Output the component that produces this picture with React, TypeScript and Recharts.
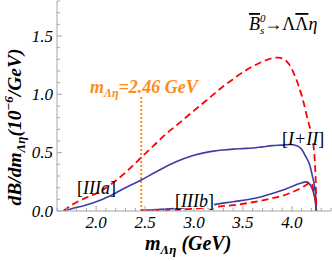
import React from 'react';
import { ComposedChart, Line, XAxis, YAxis, ReferenceLine } from 'recharts';

// ---- data ----
const xTicks = [1.6, 1.7, 1.8, 1.9, 2.0, 2.1, 2.2, 2.3, 2.4, 2.5, 2.6, 2.7, 2.8, 2.9, 3.0, 3.1, 3.2, 3.3, 3.4, 3.5, 3.6, 3.7, 3.8, 3.9, 4.0, 4.1, 4.2, 4.3, 4.4];
const yTicks = [0, 0.1, 0.2, 0.3, 0.4, 0.5, 0.6, 0.7, 0.8, 0.9, 1.0, 1.1, 1.2, 1.3, 1.4, 1.5, 1.6, 1.7, 1.8];
const xDomain: [number, number] = [1.6, 4.4];
const yDomain: [number, number] = [0, 1.8];

const thresholdX = 2.46;
const thresholdTop = 0.98;

// red dashed, large
const redLarge: [number, number][] = [
  [1.664, 0], [1.72, 0.035], [1.8, 0.075], [1.9, 0.115], [2.0, 0.15], [2.1, 0.2], [2.2, 0.26],
  [2.3, 0.33], [2.4, 0.41], [2.5, 0.49], [2.6, 0.57], [2.7, 0.65], [2.8, 0.72], [2.9, 0.79],
  [3.0, 0.86], [3.1, 0.93], [3.2, 1.0], [3.3, 1.07], [3.4, 1.13], [3.5, 1.19], [3.6, 1.24],
  [3.7, 1.28], [3.8, 1.31], [3.86, 1.315], [3.92, 1.3], [3.97, 1.26], [4.02, 1.18], [4.07, 1.07],
  [4.12, 0.93], [4.16, 0.79], [4.2, 0.66], [4.22, 0.57], [4.235, 0.42], [4.245, 0.22], [4.25, 0],
];

// blue solid, large ([IIIa] -> [I+II])
const blueLarge: [number, number][] = [
  [1.664, 0], [1.75, 0.02], [1.89, 0.05], [2.0, 0.08], [2.09, 0.11], [2.2, 0.155], [2.3, 0.2],
  [2.46, 0.265], [2.6, 0.33], [2.7, 0.375], [2.8, 0.415], [2.9, 0.45], [3.0, 0.478], [3.1, 0.498],
  [3.2, 0.513], [3.3, 0.523], [3.4, 0.53], [3.5, 0.535], [3.6, 0.54], [3.7, 0.55], [3.8, 0.56],
  [3.9, 0.565], [3.98, 0.57], [4.05, 0.56], [4.1, 0.53], [4.14, 0.47], [4.18, 0.4], [4.21, 0.3],
  [4.23, 0.22], [4.245, 0.12], [4.25, 0],
];

// blue solid, small ([IIIb])
const blueSmall: [number, number][] = [
  [2.46, 0.005], [2.6, 0.01], [2.8, 0.02], [3.0, 0.035], [3.2, 0.055], [3.4, 0.08], [3.57, 0.1],
  [3.7, 0.125], [3.8, 0.15], [3.91, 0.18], [4.0, 0.21], [4.08, 0.235], [4.15, 0.25], [4.19, 0.22],
  [4.22, 0.16], [4.24, 0.08], [4.25, 0],
];

// red dashed, small ([IIIb])
const redSmall: [number, number][] = [
  [2.46, 0.005], [2.8, 0.01], [3.0, 0.02], [3.2, 0.035], [3.4, 0.05], [3.6, 0.075], [3.8, 0.11],
  [3.9, 0.13], [4.0, 0.16], [4.1, 0.2], [4.15, 0.225], [4.19, 0.245], [4.21, 0.22], [4.23, 0.15],
  [4.245, 0.06], [4.25, 0],
];

// ---- styles ----
const FONT = '"Liberation Serif", "DejaVu Serif", serif';
const FRAME = '#a6a6a6';
const RED = '#ff0000';
const BLUE = '#3d3da6';
const ORANGE = '#ff8c1a';

const toPts = (a: [number, number][]) => a.map(([x, y]) => ({ x, y }));
const isMajor = (v: number) => Math.abs(v * 2 - Math.round(v * 2)) < 1e-6;

const BottomTick = (p: any) => {
  const { x, y, payload } = p;
  const v = payload.value as number;
  const m = isMajor(v);
  const showLabel = m && v > 1.9 && v < 4.1;
  return (
    <g>
      <line x1={x} x2={x} y1={y} y2={y - (m ? 5 : 3)} stroke={FRAME} strokeWidth={1} />
      {showLabel && (
        <text x={x} y={y + 17} textAnchor="middle" fontFamily={FONT} fontStyle="italic" fontSize={17} fill="#000">
          {v.toFixed(1)}
        </text>
      )}
    </g>
  );
};
const TopTick = (p: any) => {
  const { x, y, payload } = p;
  const m = isMajor(payload.value);
  return <line x1={x} x2={x} y1={y} y2={y + (m ? 5 : 3)} stroke={FRAME} strokeWidth={1} />;
};
const LeftTick = (p: any) => {
  const { x, y, payload } = p;
  const v = payload.value as number;
  const m = isMajor(v);
  return (
    <g>
      <line x1={x} x2={x + (m ? 5 : 3)} y1={y} y2={y} stroke={FRAME} strokeWidth={1} />
      {m && (
        <text x={x - 4} y={y + 5.5} textAnchor="end" fontFamily={FONT} fontStyle="italic" fontSize={17} fill="#000">
          {v.toFixed(1)}
        </text>
      )}
    </g>
  );
};
const RightTick = (p: any) => {
  const { x, y, payload } = p;
  const m = isMajor(payload.value);
  return <line x1={x} x2={x - (m ? 5 : 3)} y1={y} y2={y} stroke={FRAME} strokeWidth={1} />;
};

const common = { isAnimationActive: false, dot: false, activeDot: false, type: 'monotone' as const, xAxisId: 'b', yAxisId: 'l', dataKey: 'y' };

export default function App() {
  return (
    <div style={{ position: 'absolute', left: 0, top: 0, width: 332, height: 261, background: '#fff' }}>
      <ComposedChart width={332} height={261} margin={{ top: 1, right: 1, bottom: 0, left: 0 }}>
        <XAxis xAxisId="b" type="number" dataKey="x" domain={xDomain} ticks={xTicks} interval={0}
          tickSize={0} tickMargin={0} tickLine={false} axisLine={{ stroke: FRAME }} height={50}
          tick={<BottomTick />} allowDataOverflow />
        <XAxis xAxisId="t" orientation="top" type="number" dataKey="x" domain={xDomain} ticks={xTicks} interval={0}
          tickSize={0} tickMargin={0} tickLine={false} axisLine={{ stroke: FRAME }} height={0}
          tick={<TopTick />} allowDataOverflow />
        <YAxis yAxisId="l" type="number" domain={yDomain} ticks={yTicks} interval={0}
          tickSize={0} tickMargin={0} tickLine={false} axisLine={{ stroke: FRAME }} width={57}
          tick={<LeftTick />} allowDataOverflow />
        <YAxis yAxisId="r" orientation="right" type="number" domain={yDomain} ticks={yTicks} interval={0}
          tickSize={0} tickMargin={0} tickLine={false} axisLine={{ stroke: FRAME }} width={0}
          tick={<RightTick />} allowDataOverflow />
        <ReferenceLine xAxisId="b" yAxisId="l"
          segment={[{ x: thresholdX, y: 0 }, { x: thresholdX, y: thresholdTop }]}
          stroke={ORANGE} strokeWidth={2} strokeDasharray="2 2" />
        <Line {...common} data={toPts(blueSmall)} stroke={BLUE} strokeWidth={1.6} />
        <Line {...common} data={toPts(redSmall)} stroke={RED} strokeWidth={1.8} strokeDasharray="7 4" />
        <Line {...common} data={toPts(blueLarge)} stroke={BLUE} strokeWidth={1.6} />
        <Line {...common} data={toPts(redLarge)} stroke={RED} strokeWidth={1.8} strokeDasharray="7 4" />
      </ComposedChart>
      <svg width={332} height={261} style={{ position: 'absolute', left: 0, top: 0, pointerEvents: 'none' }}>
        {/* title */}
        <text x={249} y={30} fontFamily={FONT} fontSize={18} fill="#000">
          <tspan fontStyle="italic" textDecoration="overline">B</tspan>
          <tspan fontStyle="italic" fontSize={11} dy={-8}>0</tspan>
          <tspan fontStyle="italic" fontSize={11} dx={-5.5} dy={12}>s</tspan>
          <tspan dy={-4}>→Λ</tspan>
          <tspan textDecoration="overline">Λ</tspan>
          <tspan fontStyle="italic">η</tspan>
        </text>
        {/* threshold label */}
        <text x={90} y={93} fontFamily={FONT} fontSize={18} fontWeight="bold" fontStyle="italic" fill={ORANGE}>
          m<tspan fontSize={12} dy={4}>Λη</tspan><tspan dy={-4}>=2.46 GeV</tspan>
        </text>
        {/* curve labels */}
        <text x={77} y={194} fontFamily={FONT} fontSize={18} fill="#000">
          [<tspan fontStyle="italic">IIIa</tspan>]
        </text>
        <rect x={174} y={192} width={40} height={16} fill="#fff" />
        <text x={175} y={207} fontFamily={FONT} fontSize={18} fill="#000">
          [<tspan fontStyle="italic">IIIb</tspan>]
        </text>
        <rect x={292} y={129} width={31} height={14} fill="#fff" />
        <text x={282} y={145} fontFamily={FONT} fontSize={18} fill="#000">
          [<tspan fontStyle="italic">I+II</tspan>]
        </text>
        {/* axis titles */}
        <text x={145} y={250} fontFamily={FONT} fontSize={20} fontWeight="bold" fontStyle="italic" fill="#000">
          m<tspan fontSize={13} dy={4}>Λη</tspan><tspan dy={-4}> (GeV)</tspan>
        </text>
        <text x={21} y={127} transform="rotate(-90 21 127)" textAnchor="middle" fontFamily={FONT} fontSize={19.5}
          fontWeight="bold" fontStyle="italic" fill="#000">
          dB/dm<tspan fontSize={13} dy={4}>Λη</tspan><tspan dy={-4}>(10</tspan><tspan fontSize={13} dy={-8}>−6</tspan><tspan dy={8}>/GeV)</tspan>
        </text>
      </svg>
    </div>
  );
}
